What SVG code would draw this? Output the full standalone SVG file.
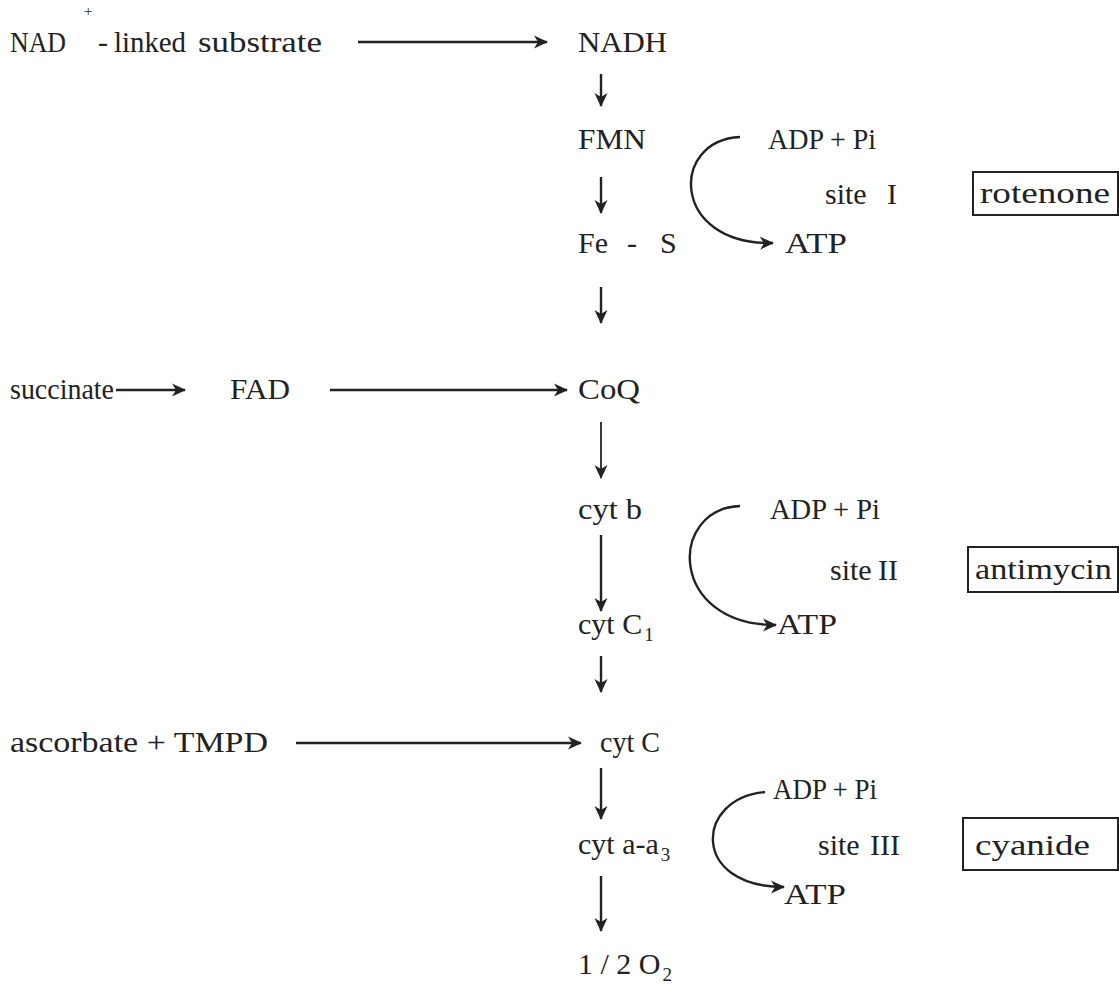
<svg xmlns="http://www.w3.org/2000/svg" width="1119" height="999" viewBox="0 0 1119 999">
<defs>
<style>
text{font-family:"Liberation Serif","Times New Roman",serif;font-size:30px;fill:#222}
.sub{font-size:19px}
.ln{stroke:#222;stroke-width:2.4;fill:none;marker-end:url(#ah)}
.box{fill:none;stroke:#222;stroke-width:2}
</style>
<marker id="ah" viewBox="0 0 14 14" refX="13" refY="7" markerWidth="14" markerHeight="14" markerUnits="userSpaceOnUse" orient="auto">
<path d="M0,0.5 L14,7 L0,13.5 L4,7 Z" fill="#222"/>
</marker>
</defs>
<rect width="1119" height="999" fill="#fff"/>
<g id="connectors">
<line class="ln" x1="358" y1="42" x2="547" y2="42"/>
<line class="ln" x1="601" y1="74" x2="601" y2="106"/>
<line class="ln" x1="601" y1="177" x2="601" y2="213"/>
<line class="ln" x1="601" y1="287" x2="601" y2="323"/>
<line class="ln" x1="116" y1="390" x2="185" y2="390"/>
<line class="ln" x1="330" y1="390" x2="567" y2="390"/>
<line class="ln" x1="601" y1="422" x2="601" y2="478" style="stroke-width:1.8"/>
<line class="ln" x1="601" y1="535" x2="601" y2="611"/>
<line class="ln" x1="601" y1="656" x2="601" y2="692"/>
<line class="ln" x1="296" y1="743" x2="581" y2="743"/>
<line class="ln" x1="601" y1="768" x2="601" y2="819"/>
<line class="ln" x1="601" y1="876" x2="601" y2="931"/>
<path class="ln" d="M740,137 C670,140 670,245 773,243"/>
<path class="ln" d="M740,506 C668,509 668,625 776,625"/>
<path class="ln" d="M765,792 C695,798 690,887 784,887"/>
</g>
<g id="nad">
<text x="10" y="52" textLength="56" lengthAdjust="spacingAndGlyphs">NAD</text>
<text x="84" y="16" style="font-size:15px">+</text>
<text x="98" y="52">-</text>
<text x="114" y="52" textLength="72" lengthAdjust="spacingAndGlyphs">linked</text>
<text x="198" y="52" textLength="124" lengthAdjust="spacingAndGlyphs">substrate</text>
</g>
<g id="nadh"><text x="578" y="52" textLength="89" lengthAdjust="spacingAndGlyphs">NADH</text></g>
<g id="fmn"><text x="578" y="149" textLength="68" lengthAdjust="spacingAndGlyphs">FMN</text></g>
<g id="fes"><text x="578" y="253">Fe<tspan x="627">-</tspan><tspan x="660">S</tspan></text></g>
<g id="site1">
<text x="768" y="149" textLength="108" lengthAdjust="spacingAndGlyphs">ADP + Pi</text>
<text x="825" y="204">site<tspan x="887">I</tspan></text>
<text x="785" y="253" textLength="62" lengthAdjust="spacingAndGlyphs">ATP</text>
</g>
<g id="rotenone"><rect class="box" x="973" y="172" width="145" height="43"/><text x="980" y="203" textLength="130" lengthAdjust="spacingAndGlyphs">rotenone</text></g>
<g id="succinate"><text x="10" y="399" textLength="104" lengthAdjust="spacingAndGlyphs">succinate</text></g>
<g id="fad"><text x="230" y="399" textLength="60" lengthAdjust="spacingAndGlyphs">FAD</text></g>
<g id="coq"><text x="578" y="399" textLength="62" lengthAdjust="spacingAndGlyphs">CoQ</text></g>
<g id="cytb"><text x="578" y="519" textLength="64" lengthAdjust="spacingAndGlyphs">cyt b</text></g>
<g id="site2">
<text x="770" y="519" textLength="110" lengthAdjust="spacingAndGlyphs">ADP + Pi</text>
<text x="830" y="580">site<tspan x="878">II</tspan></text>
<text x="777" y="634" textLength="60" lengthAdjust="spacingAndGlyphs">ATP</text>
</g>
<g id="antimycin"><rect class="box" x="968" y="547" width="150" height="45"/><text x="975" y="579" textLength="137" lengthAdjust="spacingAndGlyphs">antimycin</text></g>
<g id="cytc1"><text x="578" y="634">cyt C<tspan class="sub" dx="2" dy="7">1</tspan></text></g>
<g id="ascorbate"><text x="10" y="752" textLength="258" lengthAdjust="spacingAndGlyphs">ascorbate + TMPD</text></g>
<g id="cytc"><text x="600" y="752" textLength="60" lengthAdjust="spacingAndGlyphs">cyt C</text></g>
<g id="site3">
<text x="773" y="799" textLength="104" lengthAdjust="spacingAndGlyphs">ADP + Pi</text>
<text x="818" y="855">site<tspan x="870">III</tspan></text>
<text x="784" y="904" textLength="62" lengthAdjust="spacingAndGlyphs">ATP</text>
</g>
<g id="cyanide"><rect class="box" x="963" y="818" width="155" height="52"/><text x="975" y="855" textLength="115" lengthAdjust="spacingAndGlyphs">cyanide</text></g>
<g id="cytaa3"><text x="578" y="854">cyt a-a<tspan class="sub" dx="2" dy="7">3</tspan></text></g>
<g id="o2"><text x="578" y="974">1 / 2 O<tspan class="sub" dx="2" dy="7">2</tspan></text></g>
</svg>
